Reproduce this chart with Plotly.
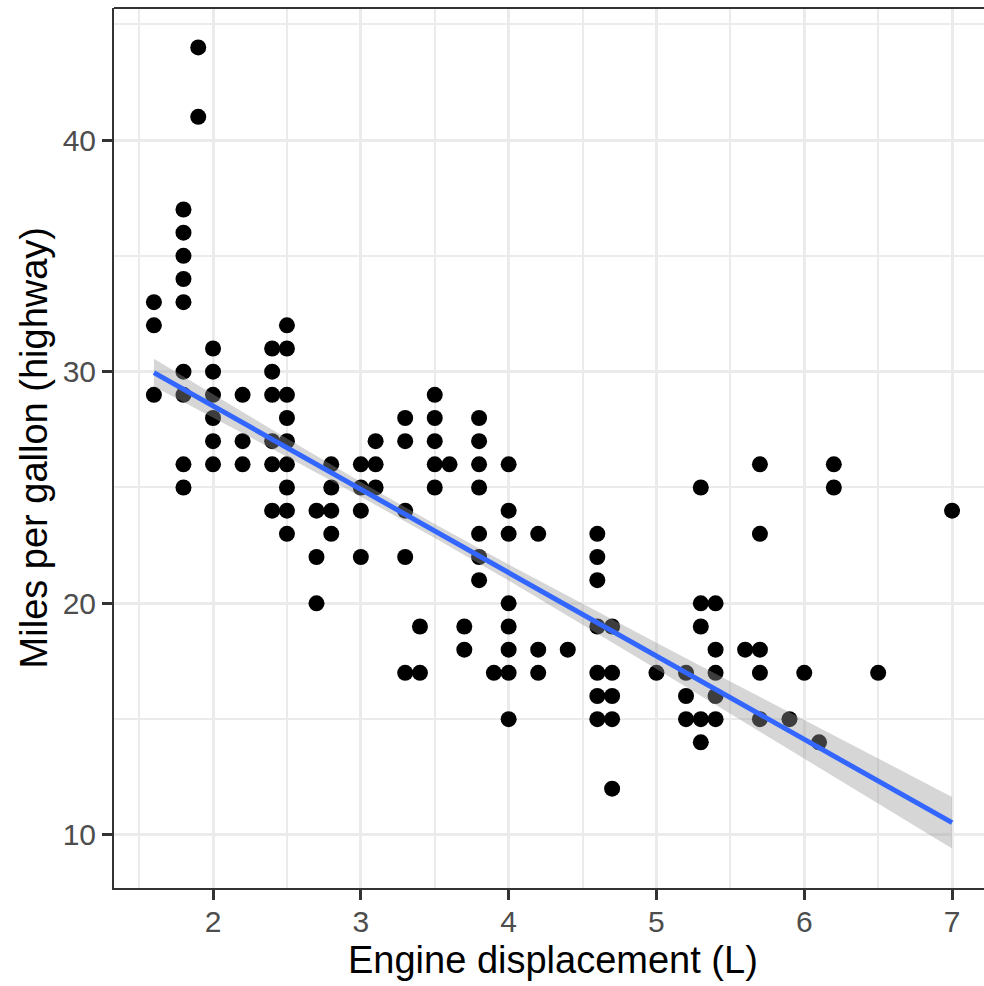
import plotly.graph_objects as go

# ---- data ----
displ = [1.6, 1.6, 1.6,
         1.8, 1.8, 1.8, 1.8, 1.8, 1.8, 1.8, 1.8, 1.8,
         1.9, 1.9,
         2.0, 2.0, 2.0, 2.0, 2.0, 2.0,
         2.2, 2.2, 2.2,
         2.4, 2.4, 2.4, 2.4, 2.4, 2.4,
         2.5, 2.5, 2.5, 2.5, 2.5, 2.5, 2.5, 2.5, 2.5,
         2.7, 2.7, 2.7,
         2.8, 2.8, 2.8, 2.8,
         3.0, 3.0, 3.0, 3.0,
         3.1, 3.1, 3.1,
         3.3, 3.3, 3.3, 3.3, 3.3,
         3.4, 3.4,
         3.5, 3.5, 3.5, 3.5, 3.5,
         3.6,
         3.7, 3.7,
         3.8, 3.8, 3.8, 3.8, 3.8, 3.8, 3.8,
         3.9,
         4.0, 4.0, 4.0, 4.0, 4.0, 4.0, 4.0, 4.0,
         4.2, 4.2, 4.2,
         4.4,
         4.6, 4.6, 4.6, 4.6, 4.6, 4.6, 4.6,
         4.7, 4.7, 4.7, 4.7, 4.7,
         5.0,
         5.2, 5.2, 5.2,
         5.3, 5.3, 5.3, 5.3, 5.3,
         5.4, 5.4, 5.4, 5.4, 5.4,
         5.6,
         5.7, 5.7, 5.7, 5.7, 5.7,
         5.9, 6.0, 6.1,
         6.2, 6.2,
         6.5, 7.0]
hwy = [33, 32, 29,
       37, 36, 35, 34, 33, 30, 29, 26, 25,
       44, 41,
       31, 30, 29, 28, 27, 26,
       29, 27, 26,
       31, 30, 29, 27, 26, 24,
       32, 31, 29, 28, 27, 26, 25, 24, 23,
       24, 22, 20,
       26, 25, 24, 23,
       26, 25, 24, 22,
       27, 26, 25,
       28, 27, 24, 22, 17,
       19, 17,
       29, 28, 27, 26, 25,
       26,
       19, 18,
       28, 27, 26, 25, 23, 22, 21,
       17,
       26, 24, 23, 20, 19, 18, 17, 15,
       23, 18, 17,
       18,
       23, 22, 21, 19, 17, 16, 15,
       19, 17, 16, 15, 12,
       17,
       17, 16, 15,
       25, 20, 19, 15, 14,
       20, 18, 17, 16, 15,
       18,
       26, 23, 18, 17, 15,
       15, 17, 14,
       26, 25,
       17, 24]

# fitted line and confidence band
fit_x = [1.6, 2.0, 2.5, 3.0, 3.5, 4.0, 4.5, 5.0, 5.5, 6.0, 6.5, 7.0]
fit_y = [29.96, 28.52, 26.72, 24.92, 23.12, 21.33, 19.53, 17.73, 15.93, 14.13, 12.33, 10.53]
fit_lo = [29.36, 28.02, 26.33, 24.60, 22.82, 20.98, 19.08, 17.16, 15.23, 13.30, 11.36, 9.42]
fit_hi = [30.56, 29.02, 27.11, 25.24, 23.42, 21.68, 19.98, 18.30, 16.63, 14.96, 13.30, 11.64]

x_ticks = [2, 3, 4, 5, 6, 7]
x_minor = [1.5, 2.5, 3.5, 4.5, 5.5, 6.5]
y_ticks = [10, 20, 30, 40]
y_minor = [15, 25, 35, 45]

FONT = "Liberation Sans, Arial, Helvetica, sans-serif"

fig = go.Figure()
fig.add_trace(go.Scatter(x=displ, y=hwy, mode="markers",
                         marker=dict(size=16, color="black", line=dict(width=0)),
                         hoverinfo="skip"))
fig.add_trace(go.Scatter(x=fit_x, y=fit_lo, mode="lines", line=dict(width=0),
                         hoverinfo="skip"))
fig.add_trace(go.Scatter(x=fit_x, y=fit_hi, mode="lines", line=dict(width=0),
                         fill="tonexty", fillcolor="rgba(153,153,153,0.4)",
                         hoverinfo="skip"))
fig.add_trace(go.Scatter(x=fit_x, y=fit_y, mode="lines",
                         line=dict(color="#3366FF", width=5), hoverinfo="skip"))

axis_common = dict(
    showgrid=True, gridcolor="#EBEBEB", gridwidth=2.6,
    zeroline=False, showline=True, linecolor="#333333", linewidth=2,
    ticks="outside", ticklen=10, tickwidth=3, tickcolor="#333333",
    tickfont=dict(family=FONT, size=30, color="#4D4D4D"),
)

fig.update_layout(
    width=984, height=986,
    margin=dict(l=114, r=0, t=8, b=98),
    paper_bgcolor="white", plot_bgcolor="white",
    showlegend=False,
    xaxis=dict(range=[1.330, 7.216], tickvals=x_ticks,
               ticktext=[str(v) for v in x_ticks],
               minor=dict(tickvals=x_minor, showgrid=True, gridcolor="#EBEBEB",
                          gridwidth=1.6, ticks=""),
               ticklabelstandoff=-4,
               **axis_common),
    yaxis=dict(range=[7.71, 45.7], tickvals=y_ticks,
               ticktext=[str(v) for v in y_ticks],
               minor=dict(tickvals=y_minor, showgrid=True, gridcolor="#EBEBEB",
                          gridwidth=1.6, ticks=""),
               **axis_common),
    shapes=[dict(type="line", xref="paper", yref="paper", x0=0, x1=1.02,
                 y0=1, y1=1, line=dict(color="#333333", width=2))],
    annotations=[
        dict(text="Engine displacement (L)", xref="paper", yref="paper",
             x=0.5046, y=-0.082, xanchor="center", yanchor="middle",
             showarrow=False, font=dict(family=FONT, size=38, color="black")),
        dict(text="Miles per gallon (highway)", xref="paper", yref="paper",
             x=-0.0915, y=0.5, xanchor="center", yanchor="middle", textangle=-90,
             showarrow=False, font=dict(family=FONT, size=38, color="black")),
    ],
)

fig.write_html("out.html", config={"displayModeBar": False},
               post_script="document.body.style.margin='0';document.body.style.overflow='hidden';")
